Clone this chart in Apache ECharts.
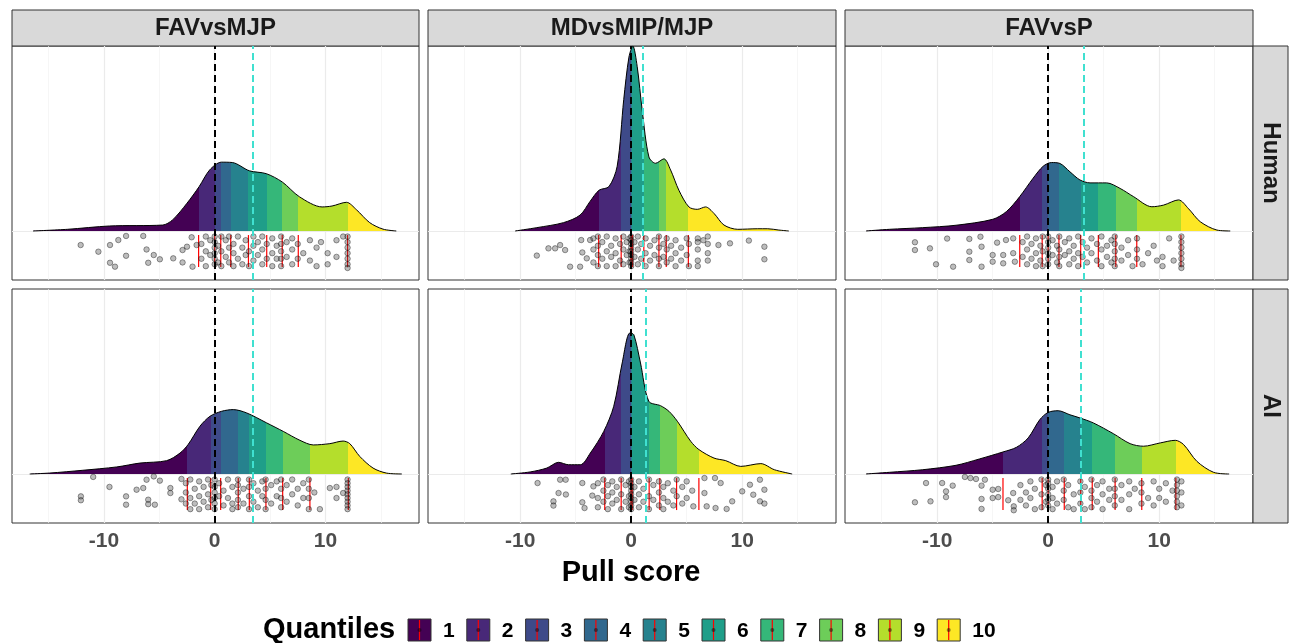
<!DOCTYPE html>
<html><head><meta charset="utf-8">
<script src="https://cdn.jsdelivr.net/npm/echarts@6/dist/echarts.min.js"></script>
<style>html,body{margin:0;padding:0;background:#fff}#c{width:1295px;height:643px}</style>
</head><body><div id="c"></div>
<script>
// ---------- data ----------
const facetCols = ['FAVvsMJP', 'MDvsMIP/MJP', 'FAVvsP'];
const facetRows = ['Human', 'AI'];
const quantileLabels = ['1','2','3','4','5','6','7','8','9','10'];
const viridis10 = ['#440154','#482878','#3E4A89','#31688E','#26828E','#1F9E89','#35B779','#6DCD59','#B4DE2C','#FDE725'];
const xTickValues = [-10, 0, 10];
const xGridMajor = [-10, 0, 10];
const xGridMinor = [-15, -5, 5, 15];

const density_FAVvsMJP_Human = [[-16.4,0],[-13.3,0.009],[-9.5,0.027],[-4.7,0.032],[-3.8,0.06],[-2.5,0.15],[-1.4,0.24],[-0.45,0.33],[0.6,0.372],[1.6,0.37],[3.15,0.325],[4.65,0.31],[6.1,0.265],[7.65,0.185],[9.7,0.13],[10.6,0.135],[11.9,0.155],[12.8,0.115],[14,0.045],[15.2,0.01],[16.4,0]];
const density_MDvsMIP_Human = [[-10.45,0],[-8.5,0.018],[-6.1,0.045],[-4.6,0.086],[-3.7,0.16],[-2.9,0.22],[-2.0,0.24],[-1.26,0.35],[-0.67,0.71],[-0.2,0.94],[0.15,1.0],[0.54,0.89],[1.0,0.65],[1.6,0.40],[2.2,0.366],[2.95,0.39],[3.55,0.33],[4.3,0.22],[5.2,0.13],[5.96,0.117],[6.7,0.13],[7.46,0.095],[8.36,0.032],[9.6,0.009],[11.4,0.012],[12.3,0.012],[13.3,0.005],[14.2,0]];
const density_FAVvsP_Human = [[-16.4,0],[-14.3,0.009],[-11.3,0.018],[-8.3,0.031],[-5.0,0.063],[-3.76,0.105],[-2.56,0.186],[-1.36,0.285],[-0.45,0.35],[0.3,0.37],[1.06,0.365],[1.96,0.32],[2.86,0.276],[3.77,0.26],[5.27,0.26],[6.48,0.23],[7.68,0.186],[9.34,0.131],[10.4,0.14],[11.74,0.168],[12.65,0.12],[13.7,0.05],[15.2,0.005],[16.4,0]];
const density_FAVvsMJP_AI = [[-16.7,0],[-14.9,0.005],[-11.9,0.02],[-8.85,0.038],[-6.75,0.059],[-4.34,0.072],[-3.13,0.113],[-2.4,0.159],[-1.33,0.258],[-0.42,0.312],[0.63,0.339],[1.68,0.348],[2.89,0.33],[4.7,0.276],[6.2,0.23],[7.7,0.182],[8.9,0.157],[10.4,0.164],[11.6,0.178],[12.2,0.164],[13.1,0.095],[14.3,0.032],[15.5,0.005],[16.9,0]];
const density_MDvsMIP_AI = [[-10.84,0],[-9.1,0.011],[-7.6,0.032],[-6.54,0.063],[-5.64,0.05],[-4.58,0.05],[-3.68,0.113],[-2.47,0.23],[-1.57,0.366],[-0.81,0.6],[-0.12,0.762],[0.24,0.753],[0.84,0.6],[1.59,0.393],[2.65,0.369],[3.4,0.339],[4.16,0.285],[5.36,0.177],[6.1,0.132],[7.46,0.086],[8.52,0.072],[9.87,0.041],[11.68,0.056],[12.9,0.023],[14.5,0]];
const density_FAVvsP_AI = [[-16.4,0],[-14.3,0.009],[-11.3,0.023],[-8.3,0.047],[-6.2,0.081],[-4.07,0.119],[-2.86,0.144],[-1.8,0.195],[-0.75,0.294],[0,0.333],[0.9,0.342],[1.96,0.32],[2.86,0.303],[4.07,0.276],[5.87,0.218],[7.38,0.164],[8.58,0.15],[10.1,0.168],[11.45,0.182],[12.2,0.159],[13.4,0.068],[14.9,0.009],[16.3,0]];

const quant_FAVvsMJP_Human = [-1.45, 0, 0.55, 1.45, 3.05, 4.7, 6.1, 7.55, 12.0];
const quant_MDvsMIP_Human = [-2.93, -0.9, 0, 0, 0.12, 1.14, 2.5, 3.16, 5.15];
const quant_FAVvsP_Human = [-2.56, -0.54, 0, 0.97, 2.93, 4.52, 6.09, 7.98, 11.96];
const quant_FAVvsMJP_AI = [-2.47, -0.36, 0.54, 2.13, 3.13, 4.63, 6.14, 8.6, 12.07];
const quant_MDvsMIP_AI = [-2.38, -0.9, 0, 0, 0.1, 1.62, 2.58, 4.09, 6.1];
const quant_FAVvsP_AI = [-4.07, -0.54, 0, 1.45, 2.93, 3.97, 6.03, 8.43, 11.5];

const mean_Human = [3.45, 1.05, 3.25];
const mean_AI = [3.45, 1.35, 2.9];

// points: [x, y1, y2, ...] (jittered rows)
const pts_FAVvsMJP_Human = [[-12.1,-0.076],[-10.5,-0.112],[-9.45,-0.076,-0.172],[-9.0,-0.193],[-8.7,-0.049],[-8.0,-0.027,-0.134],[-6.45,-0.027],[-6.15,-0.1],[-6.0,-0.172],[-5.5,-0.13],[-4.95,-0.153],[-3.74,-0.148],[-2.9,-0.103,-0.17],[-2.5,-0.085],[-2.08,-0.034],[-2.0,-0.193],[-1.63,-0.076],[-1.2,-0.07,-0.15],[-0.8,-0.03,-0.11,-0.19],[-0.4,-0.05,-0.13],[0,-0.03,-0.06,-0.09,-0.12,-0.15,-0.18],[0.3,-0.08,-0.17],[0.6,-0.03,-0.11,-0.19],[1.0,-0.05,-0.14],[1.3,-0.03,-0.09,-0.17],[1.7,-0.07,-0.12,-0.19],[2.1,-0.03,-0.15],[2.5,-0.09,-0.18],[2.8,-0.05,-0.13],[3.1,-0.11,-0.19],[3.5,-0.03,-0.08,-0.16],[3.9,-0.06,-0.13],[4.3,-0.03,-0.1,-0.18],[4.7,-0.07,-0.15],[5.2,-0.04,-0.12,-0.19],[5.6,-0.08,-0.15],[6.0,-0.03,-0.07,-0.11,-0.15,-0.19],[6.5,-0.06,-0.14],[7.0,-0.04,-0.1,-0.18],[7.5,-0.07,-0.15],[8.0,-0.12],[8.6,-0.05,-0.16],[9.2,-0.09,-0.19],[9.6,-0.06],[10.2,-0.12,-0.18],[11.0,-0.05,-0.14],[11.6,-0.03],[12.0,-0.03,-0.06,-0.09,-0.12,-0.15,-0.18,-0.2]];
const pts_MDvsMIP_Human = [[-8.5,-0.133],[-7.45,-0.094],[-6.85,-0.094],[-6.4,-0.076],[-5.95,-0.103],[-5.5,-0.193],[-4.6,-0.193],[-4.5,-0.049],[-4.4,-0.116],[-4.0,-0.148],[-3.7,-0.049],[-3.4,-0.04,-0.1,-0.17],[-3.0,-0.03,-0.08,-0.13,-0.19],[-2.6,-0.06,-0.15],[-2.2,-0.03,-0.11,-0.19],[-1.8,-0.08,-0.14],[-1.4,-0.04,-0.12,-0.19],[-1.0,-0.07,-0.16],[-0.7,-0.03,-0.1,-0.18],[-0.4,-0.06,-0.13],[-0.15,-0.04,-0.11,-0.17],[0,-0.03,-0.05,-0.07,-0.09,-0.11,-0.13,-0.15,-0.17,-0.19],[0.3,-0.06,-0.14],[0.6,-0.03,-0.1,-0.18],[0.9,-0.07,-0.15],[1.3,-0.04,-0.12,-0.19],[1.7,-0.08,-0.16],[2.1,-0.05,-0.13],[2.5,-0.03,-0.09,-0.15,-0.19],[2.9,-0.07,-0.14],[3.2,-0.04,-0.1,-0.17],[3.6,-0.08,-0.15],[4.0,-0.05,-0.12,-0.19],[4.5,-0.09,-0.16],[5.0,-0.04,-0.13],[5.2,-0.07,-0.19],[6.0,-0.04,-0.06,-0.1,-0.16,-0.19],[6.5,-0.05],[6.9,-0.03,-0.07,-0.12,-0.16],[7.86,-0.076],[8.9,-0.067],[10.6,-0.052],[12.0,-0.085,-0.153]];
const pts_FAVvsP_Human = [[-12.0,-0.061,-0.103],[-10.65,-0.094],[-10.1,-0.18],[-9.1,-0.041],[-8.56,-0.193],[-7.1,-0.043,-0.112,-0.157],[-6.1,-0.031],[-6.0,-0.085,-0.193],[-5.0,-0.13,-0.166],[-4.6,-0.063],[-4.05,-0.13,-0.175],[-3.8,-0.049],[-3.15,-0.04,-0.12],[-3.0,-0.166],[-2.3,-0.06,-0.14],[-1.9,-0.03,-0.1,-0.18],[-1.5,-0.07,-0.15],[-1.1,-0.04,-0.12,-0.19],[-0.7,-0.08,-0.16],[-0.5,-0.03,-0.11,-0.19],[0,-0.03,-0.06,-0.09,-0.12,-0.15,-0.18],[0.4,-0.05,-0.13],[0.8,-0.08,-0.17],[1.0,-0.03,-0.1,-0.14,-0.19],[1.5,-0.06,-0.13],[1.9,-0.04,-0.11,-0.18],[2.3,-0.08,-0.15],[2.7,-0.03,-0.12,-0.19],[3.1,-0.06,-0.14],[3.5,-0.09,-0.17],[3.9,-0.04,-0.12],[4.4,-0.07,-0.16],[4.8,-0.03,-0.1,-0.19],[5.3,-0.08,-0.14],[5.7,-0.05,-0.17],[6.0,-0.03,-0.07,-0.11,-0.15,-0.19],[6.6,-0.09,-0.16],[7.2,-0.05,-0.13],[7.6,-0.19],[8.0,-0.04,-0.1,-0.15],[8.5,-0.18],[9.0,-0.12],[9.5,-0.08],[9.8,-0.16],[10.3,-0.14,-0.19],[10.9,-0.04],[11.3,-0.16],[12.0,-0.03,-0.06,-0.09,-0.12,-0.15,-0.18,-0.2]];
const pts_FAVvsMJP_AI = [[-12.08,-0.121,-0.142],[-10.97,-0.016],[-9.5,-0.07],[-8.0,-0.121,-0.166],[-7.05,-0.085],[-6.45,-0.076],[-6.15,-0.031],[-6.0,-0.139,-0.163],[-5.5,-0.013],[-5.4,-0.166],[-4.95,-0.036],[-4.0,-0.076,-0.103],[-3.0,-0.027,-0.137],[-2.6,-0.05,-0.1,-0.16],[-2.2,-0.03,-0.13,-0.19],[-1.8,-0.08,-0.16],[-1.4,-0.04,-0.12,-0.19],[-1.0,-0.07,-0.15],[-0.6,-0.03,-0.11,-0.18],[-0.3,-0.06,-0.14],[0,-0.03,-0.07,-0.1,-0.13,-0.16,-0.19],[0.4,-0.05,-0.12],[0.8,-0.09,-0.17],[1.2,-0.03,-0.13],[1.6,-0.07,-0.16,-0.19],[2.1,-0.03,-0.06,-0.1,-0.14,-0.18],[2.6,-0.08,-0.16],[3.1,-0.03,-0.07,-0.12,-0.19],[3.5,-0.05,-0.15],[3.9,-0.09,-0.18],[4.3,-0.04,-0.12],[4.6,-0.03,-0.08,-0.14,-0.19],[5.1,-0.06,-0.16],[5.6,-0.04,-0.12],[6.0,-0.03,-0.08,-0.13,-0.18],[6.5,-0.06,-0.15],[7.0,-0.03,-0.11],[7.5,-0.08,-0.17],[8.0,-0.05,-0.13],[8.5,-0.03,-0.08,-0.13,-0.19],[9.0,-0.1],[9.5,-0.19],[10.4,-0.076],[11.0,-0.07,-0.13],[11.6,-0.103],[12.0,-0.03,-0.05,-0.07,-0.09,-0.11,-0.13,-0.15,-0.17,-0.19]];
const pts_MDvsMIP_AI = [[-8.43,-0.049],[-7.0,-0.148,-0.171],[-6.54,-0.103],[-6.4,-0.031],[-5.9,-0.031],[-5.88,-0.111],[-4.4,-0.049,-0.153],[-4.2,-0.184],[-3.5,-0.117],[-3.4,-0.067],[-3.0,-0.05,-0.13,-0.18],[-2.5,-0.03,-0.09,-0.15],[-2.1,-0.06,-0.12,-0.19],[-1.7,-0.04,-0.1,-0.16],[-1.3,-0.07,-0.14],[-0.9,-0.03,-0.11,-0.19],[-0.5,-0.06,-0.15],[-0.2,-0.04,-0.12,-0.18],[0,-0.03,-0.05,-0.07,-0.09,-0.11,-0.13,-0.15,-0.17,-0.19],[0.3,-0.07,-0.14],[0.7,-0.04,-0.11,-0.18],[1.1,-0.08,-0.15],[1.6,-0.03,-0.12,-0.19],[2.0,-0.06,-0.14],[2.5,-0.04,-0.1,-0.17],[2.9,-0.07,-0.13,-0.19],[3.3,-0.05,-0.15],[3.8,-0.09,-0.17],[4.1,-0.03,-0.12],[4.6,-0.07,-0.16],[5.0,-0.04,-0.13],[5.5,-0.09],[5.6,-0.175],[6.6,-0.022,-0.103],[6.8,-0.175],[7.55,-0.022],[7.6,-0.184],[8.06,-0.049],[8.6,-0.189],[9.1,-0.148],[10.0,-0.094],[10.7,-0.058],[11.0,-0.112],[11.6,-0.031,-0.148],[12.0,-0.085,-0.16]];
const pts_FAVvsP_AI = [[-12.0,-0.153],[-11.0,-0.049],[-10.6,-0.148],[-9.55,-0.049],[-9.2,-0.094,-0.125],[-8.6,-0.063],[-7.5,-0.016],[-7.0,-0.022],[-6.5,-0.027],[-6.0,-0.063,-0.135,-0.189],[-5.7,-0.031],[-5.0,-0.085,-0.13],[-4.5,-0.081,-0.125],[-3.6,-0.142],[-3.15,-0.103],[-3.1,-0.175,-0.196],[-2.5,-0.06,-0.14],[-2.0,-0.1,-0.17],[-1.6,-0.04,-0.13],[-1.2,-0.08,-0.19],[-0.6,-0.03,-0.11,-0.18],[-0.2,-0.06,-0.15],[0,-0.03,-0.05,-0.08,-0.11,-0.14,-0.17],[0.4,-0.07,-0.13,-0.19],[0.8,-0.04,-0.16],[1.4,-0.03,-0.09,-0.14],[1.8,-0.06,-0.18],[2.3,-0.11,-0.19],[2.9,-0.04,-0.1,-0.16],[3.3,-0.07,-0.19],[3.9,-0.03,-0.09,-0.13,-0.18],[4.4,-0.06,-0.15],[4.9,-0.04,-0.11,-0.19],[5.5,-0.08,-0.14],[6.0,-0.03,-0.08,-0.12,-0.17],[6.6,-0.06,-0.14],[7.3,-0.04,-0.11,-0.19],[7.8,-0.08],[8.4,-0.05,-0.1,-0.16],[9.0,-0.13],[9.5,-0.04,-0.17],[10.0,-0.08,-0.13],[10.6,-0.05,-0.15],[11.2,-0.09],[11.6,-0.03,-0.06,-0.09,-0.12,-0.15,-0.18],[12.0,-0.04,-0.1,-0.17]];

// ---------- layout ----------
const FONT = '"Liberation Sans", Arial, Helvetica, sans-serif';
const xMin = -18.3, xMax = 18.45, yMin = -0.265, yMax = 1.0;
const gridLefts = [12, 428, 845], gridWidths = [407, 408, 408];
const gridTops = [46, 289], gridH = 234;
const segTop = -0.022, segBot = -0.195;

const panels = [
  {col:0,row:0,dens:density_FAVvsMJP_Human,q:quant_FAVvsMJP_Human,mean:mean_Human[0],pts:pts_FAVvsMJP_Human},
  {col:1,row:0,dens:density_MDvsMIP_Human,q:quant_MDvsMIP_Human,mean:mean_Human[1],pts:pts_MDvsMIP_Human},
  {col:2,row:0,dens:density_FAVvsP_Human,q:quant_FAVvsP_Human,mean:mean_Human[2],pts:pts_FAVvsP_Human},
  {col:0,row:1,dens:density_FAVvsMJP_AI,q:quant_FAVvsMJP_AI,mean:mean_AI[0],pts:pts_FAVvsMJP_AI},
  {col:1,row:1,dens:density_MDvsMIP_AI,q:quant_MDvsMIP_AI,mean:mean_AI[1],pts:pts_MDvsMIP_AI},
  {col:2,row:1,dens:density_FAVvsP_AI,q:quant_FAVvsP_AI,mean:mean_AI[2],pts:pts_FAVvsP_AI}
];

function pieces(q){
  const out = [{lt:q[0], color:viridis10[0]}];
  for (let k=1;k<q.length;k++) out.push({gte:q[k-1], lt:q[k], color:viridis10[k]});
  out.push({gte:q[q.length-1], color:viridis10[9]});
  return out;
}
function expandPts(stacks){
  const out=[];
  stacks.forEach(s=>{ for(let k=1;k<s.length;k++) out.push([s[0], s[k]]); });
  return out;
}
const gridLineData = [].concat(
  xGridMinor.map(v=>({xAxis:v, lineStyle:{color:'#F2F2F2', width:0.7, type:'solid'}})),
  xGridMajor.map(v=>({xAxis:v, lineStyle:{color:'#EBEBEB', width:1.2, type:'solid'}})),
  [{yAxis:0, lineStyle:{color:'#EBEBEB', width:1.2, type:'solid'}}]
);

const grids=[], xAxes=[], yAxes=[], series=[], visualMaps=[];
panels.forEach((p,i)=>{
  const bottom = p.row===1;
  grids.push({left:gridLefts[p.col], top:gridTops[p.row], width:gridWidths[p.col], height:gridH,
    show:true, borderColor:'#333333', borderWidth:1, backgroundColor:'#ffffff'});
  xAxes.push({type:'value', gridIndex:i, min:xMin, max:xMax,
    axisLine:{show:false}, splitLine:{show:false},
    axisTick:{show:bottom, customValues:xTickValues, length:4, lineStyle:{color:'#333333'}},
    axisLabel:{show:bottom, customValues:xTickValues, margin:8, color:'#4D4D4D', fontWeight:'bold', fontSize:21, fontFamily:FONT}});
  yAxes.push({type:'value', gridIndex:i, min:yMin, max:yMax,
    axisLine:{show:false}, splitLine:{show:false}, axisLabel:{show:false},
    axisTick:{show:p.col===0, customValues:[0], length:4, lineStyle:{color:'#333333'}}});
  const areaIdx = series.length;
  series.push({type:'line', xAxisIndex:i, yAxisIndex:i, data:p.dens, smooth:0.3, symbol:'none', z:2,
    lineStyle:{color:'#000000', width:1}, areaStyle:{opacity:1},
    markLine:{silent:true, z:1, symbol:['none','none'], label:{show:false}, animation:false, data:gridLineData}});
  visualMaps.push({type:'piecewise', show:false, seriesIndex:areaIdx, dimension:0, pieces:pieces(p.q)});
  series.push({type:'custom', xAxisIndex:i, yAxisIndex:i, z:3, silent:true,
    data:p.q.map(v=>[v, segTop]), encode:{x:0, y:1},
    renderItem:(params, api)=>{
      const x=api.value(0); const a=api.coord([x, segTop]); const b=api.coord([x, segBot]);
      return {type:'line', shape:{x1:a[0], y1:a[1], x2:b[0], y2:b[1]}, style:{stroke:'#FF0000', lineWidth:1.2}};
    }});
  series.push({type:'scatter', xAxisIndex:i, yAxisIndex:i, data:expandPts(p.pts), symbolSize:5.5, z:4, silent:true,
    itemStyle:{color:'rgba(60,60,60,0.42)', borderColor:'rgba(0,0,0,0.6)', borderWidth:0.8},
    markLine:{silent:true, z:5, symbol:['none','none'], label:{show:false}, animation:false,
      data:[{xAxis:0, lineStyle:{color:'#000000', width:2, type:[7,4]}},
            {xAxis:p.mean, lineStyle:{color:'#40E0D0', width:2, type:[7,4]}}]}});
});

// strips, title, legend
const graphics = [];
facetCols.forEach((name,c)=>{
  graphics.push({type:'rect', shape:{x:gridLefts[c], y:10, width:gridWidths[c], height:36},
    style:{fill:'#D9D9D9', stroke:'#333333', lineWidth:1}});
  graphics.push({type:'text', x:gridLefts[c]+gridWidths[c]/2, y:28,
    style:{text:name, align:'center', verticalAlign:'middle', font:'bold 24px '+FONT, fill:'#1A1A1A'}});
});
facetRows.forEach((name,r)=>{
  graphics.push({type:'rect', shape:{x:1253, y:gridTops[r], width:35, height:gridH},
    style:{fill:'#D9D9D9', stroke:'#333333', lineWidth:1}});
  graphics.push({type:'text', x:1270.5, y:gridTops[r]+gridH/2, rotation:-Math.PI/2,
    style:{text:name, align:'center', verticalAlign:'middle', font:'bold 24px '+FONT, fill:'#1A1A1A'}});
});
graphics.push({type:'text', x:631, y:573,
  style:{text:'Pull score', align:'center', verticalAlign:'middle', font:'bold 29px '+FONT, fill:'#000000'}});
graphics.push({type:'text', x:263, y:630,
  style:{text:'Quantiles', align:'left', verticalAlign:'middle', font:'bold 29px '+FONT, fill:'#000000'}});
quantileLabels.forEach((lab,k)=>{
  const bx = 408 + k*58.8, by = 619, bw = 23, bh = 22;
  graphics.push({type:'rect', shape:{x:bx, y:by, width:bw, height:bh}, style:{fill:viridis10[k], stroke:'#333333', lineWidth:1}});
  graphics.push({type:'line', shape:{x1:bx+bw/2, y1:by+1, x2:bx+bw/2, y2:by+bh-1}, style:{stroke:'#FF0000', lineWidth:1.2}});
  graphics.push({type:'circle', shape:{cx:bx+bw/2, cy:by+bh/2, r:2}, style:{fill:'rgba(0,0,0,0.45)'}});
  graphics.push({type:'text', x:bx+bw+12, y:by+bh/2+1,
    style:{text:lab, align:'left', verticalAlign:'middle', font:'bold 21px '+FONT, fill:'#000000'}});
});

const chart = echarts.init(document.getElementById('c'), null, {renderer:'canvas'});
chart.setOption({
  animation:false,
  backgroundColor:'#ffffff',
  grid:grids, xAxis:xAxes, yAxis:yAxes, visualMap:visualMaps, series:series,
  graphic:{elements:graphics}
});
</script></body></html>
